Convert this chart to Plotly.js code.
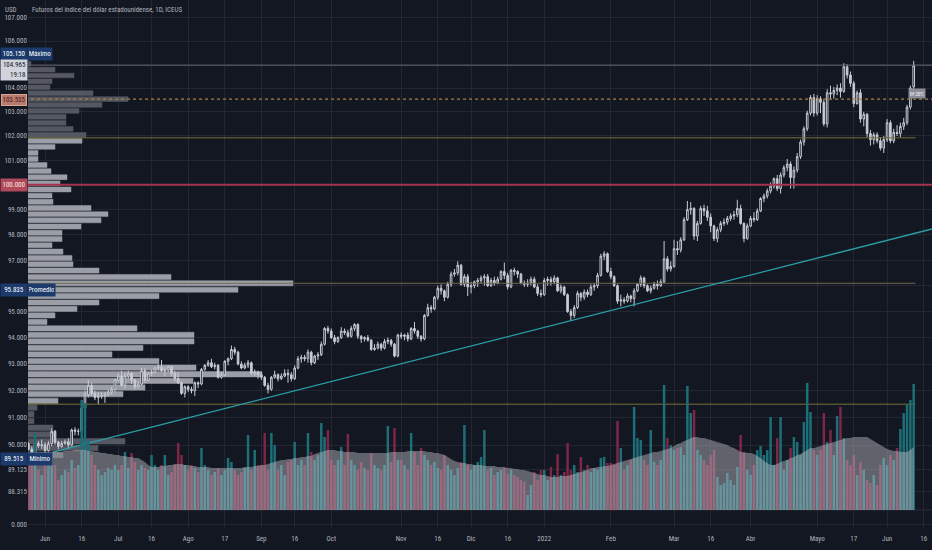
<!DOCTYPE html>
<html>
<head>
<meta charset="utf-8">
<script src="https://cdn.plot.ly/plotly-3.0.1.min.js"></script>
<style>
html,body{margin:0;padding:0;background:#131722;}
#chart{width:932px;height:550px;}
</style>
</head>
<body>
<div id="chart"></div>
<script>
// ---------------- DATA (daily bars, 24 May 2021 - 13 Jun 2022) ----------------
const opens = [
/*May21*/ 90.05,89.85,89.62,90.06,89.97,
/*Jun21*/ 90.02,89.80,90.05,90.50,90.10,89.95,90.05,90.12,90.00,90.55,90.50,90.50,91.35,91.85,92.20,91.90,91.75,91.80,91.80,91.85,91.95,92.05,
/*Jul21*/ 92.40,92.55,92.20,92.55,92.65,92.40,92.15,92.25,92.75,92.40,92.65,92.70,92.85,92.88,92.75,92.80,92.90,92.65,92.45,92.30,91.90,
/*Aug21*/ 92.15,92.05,92.00,92.30,92.25,92.80,92.95,93.05,92.90,92.95,92.50,92.60,93.10,93.20,93.55,93.45,93.00,92.85,92.95,93.05,92.65,92.70,
/*Sep21*/ 92.60,92.50,92.20,92.05,92.50,92.60,92.45,92.55,92.65,92.60,92.45,92.85,93.20,93.25,93.20,93.45,93.05,93.30,93.35,93.75,94.35,
/*Oct21*/ 94.25,94.00,93.85,94.00,94.25,94.20,94.05,94.35,94.50,94.05,93.95,94.00,93.90,93.55,93.60,93.75,93.60,93.85,93.90,93.75,93.30,
/*Nov21*/ 94.10,94.05,94.10,93.95,94.35,94.25,94.05,93.95,94.85,95.15,95.10,95.55,95.90,95.80,95.55,96.05,96.45,96.50,96.80,96.05,96.35,
/*Dec21*/ 95.95,96.00,96.15,96.20,96.30,96.35,96.00,96.20,96.10,96.25,96.55,96.40,95.95,96.60,96.55,96.45,96.10,96.05,96.10,96.25,95.95,95.70,
/*Jan22*/ 95.65,96.20,96.25,96.15,96.30,95.80,95.95,95.65,95.00,94.85,95.15,95.70,95.55,95.75,95.65,95.95,96.00,96.40,97.15,97.25,
/*Feb22*/ 96.55,96.35,96.00,95.40,95.45,95.40,95.60,95.50,95.80,96.05,96.30,96.00,95.80,95.90,96.05,96.00,96.15,97.05,96.65,
/*Mar22*/ 96.75,97.45,97.40,97.80,98.60,99.00,99.05,97.95,98.45,99.05,98.95,98.70,98.35,97.85,98.20,98.45,98.50,98.65,98.75,98.80,99.05,98.45,97.85,
/*Apr22*/ 98.35,98.65,98.60,98.95,99.45,99.55,99.75,99.95,100.25,99.85,100.40,100.70,100.85,100.30,100.60,101.15,101.75,102.30,102.95,103.60,
/*May22*/ 102.95,103.55,103.40,102.50,103.80,103.75,103.90,104.00,103.85,104.90,104.55,104.20,103.35,103.80,102.70,102.90,102.10,101.85,102.05,101.80,101.50,
/*Jun22*/ 101.85,102.55,101.80,102.15,102.10,102.40,102.55,103.20,104.05
];
const highs = [
/*May21*/ 90.10,89.95,90.15,90.15,90.20,
/*Jun21*/ 90.10,90.15,90.60,90.55,90.15,90.15,90.20,90.25,90.60,90.65,90.60,91.45,92.00,92.40,92.30,92.00,91.95,91.95,91.95,92.05,92.15,92.45,
/*Jul21*/ 92.65,92.75,92.70,92.75,92.70,92.45,92.35,92.85,92.85,92.70,92.80,92.90,93.00,93.15,92.90,92.95,92.95,92.75,92.70,92.35,92.20,
/*Aug21*/ 92.20,92.15,92.35,92.35,92.85,93.00,93.15,93.20,93.05,93.00,92.70,93.15,93.25,93.70,93.65,93.50,93.10,93.05,93.15,93.10,92.80,92.75,
/*Sep21*/ 92.70,92.55,92.30,92.55,92.75,92.65,92.65,92.80,92.80,92.70,92.95,93.30,93.35,93.35,93.55,93.50,93.35,93.45,93.85,94.40,94.45,
/*Oct21*/ 94.35,94.10,94.05,94.40,94.35,94.30,94.45,94.55,94.55,94.10,94.05,94.10,93.95,93.75,93.85,93.80,93.95,94.00,93.95,93.80,94.15,
/*Nov21*/ 94.20,94.15,94.20,94.40,94.60,94.30,94.10,94.90,95.30,95.25,95.60,96.00,96.05,95.85,96.15,96.55,96.65,96.95,96.85,96.45,96.45,
/*Dec21*/ 96.15,96.20,96.30,96.40,96.45,96.45,96.30,96.35,96.35,96.60,96.90,96.50,96.65,96.70,96.60,96.50,96.20,96.25,96.35,96.35,96.05,95.85,
/*Jan22*/ 96.30,96.35,96.35,96.40,96.35,96.05,96.00,95.70,95.10,95.25,95.80,95.75,95.85,95.85,96.05,96.10,96.50,97.25,97.35,97.30,
/*Feb22*/ 96.70,96.40,96.05,95.65,95.55,95.70,95.65,95.90,96.10,96.40,96.35,96.05,96.00,96.15,96.20,96.25,97.75,97.15,96.95,
/*Mar22*/ 97.80,97.75,97.90,98.70,99.35,99.30,99.10,98.55,99.15,99.20,99.15,98.85,98.40,98.30,98.55,98.65,98.75,98.85,98.95,99.40,99.20,98.50,98.45,
/*Apr22*/ 98.75,98.90,99.05,99.50,99.65,99.85,100.10,100.30,100.40,100.50,100.80,101.05,100.95,100.75,101.30,101.85,102.40,103.05,103.70,103.75,
/*May22*/ 103.70,103.65,103.50,103.95,104.10,104.05,104.15,104.20,105.05,105.00,104.70,104.30,103.90,103.95,103.00,102.95,102.25,102.15,102.15,101.95,102.00,
/*Jun22*/ 102.70,102.65,102.30,102.45,102.55,102.75,103.30,104.10,105.15
];
const lows = [
/*May21*/ 89.80,89.52,89.58,89.90,89.85,
/*Jun21*/ 89.65,89.75,89.95,90.00,89.85,89.90,90.00,89.85,89.95,90.35,90.35,90.40,91.30,91.75,91.80,91.65,91.50,91.70,91.55,91.80,91.85,91.95,
/*Jul21*/ 92.35,92.15,92.10,92.45,92.25,92.05,92.10,92.20,92.30,92.35,92.55,92.65,92.75,92.70,92.55,92.70,92.55,92.35,92.25,91.85,91.75,
/*Aug21*/ 91.95,91.90,91.80,92.10,92.20,92.75,92.90,92.85,92.80,92.45,92.45,92.55,92.95,93.15,93.35,92.95,92.80,92.80,92.85,92.60,92.55,92.45,
/*Sep21*/ 92.40,92.15,91.90,92.00,92.45,92.35,92.40,92.50,92.30,92.35,92.40,92.80,93.05,93.10,93.05,92.95,93.00,93.15,93.30,93.70,94.15,
/*Oct21*/ 93.95,93.75,93.80,93.95,94.10,94.00,94.00,94.25,93.95,93.80,93.85,93.85,93.50,93.50,93.55,93.50,93.55,93.75,93.65,93.25,93.25,
/*Nov21*/ 93.95,93.90,93.85,93.90,94.15,93.95,93.85,93.90,94.80,94.95,95.05,95.45,95.65,95.40,95.50,95.95,96.35,96.40,96.00,95.95,95.60,
/*Dec21*/ 95.70,95.90,95.95,96.10,96.00,95.95,95.95,96.00,96.05,96.20,96.25,95.85,95.90,96.40,96.30,96.05,95.95,95.95,96.00,95.90,95.60,95.55,
/*Jan22*/ 95.60,96.00,96.00,96.05,95.75,95.70,95.60,94.95,94.65,94.75,95.10,95.40,95.45,95.55,95.60,95.80,95.90,96.35,97.00,96.50,
/*Feb22*/ 96.25,95.95,95.30,95.20,95.30,95.35,95.35,95.20,95.75,95.95,95.90,95.75,95.70,95.85,95.85,95.95,96.10,96.55,96.55,
/*Mar22*/ 96.70,97.20,97.30,97.75,98.55,98.80,97.80,97.75,98.40,98.75,98.55,98.10,97.75,97.70,98.10,98.35,98.40,98.55,98.60,98.70,98.40,97.70,97.80,
/*Apr22*/ 98.30,98.50,98.55,98.90,99.30,99.45,99.65,99.85,99.75,99.65,100.30,100.55,99.85,99.85,100.50,101.05,101.60,102.20,102.85,102.80,
/*May22*/ 102.85,102.95,102.40,102.35,103.55,103.55,103.70,103.60,103.80,104.40,104.05,103.20,103.30,102.55,102.40,101.95,101.60,101.65,101.70,101.40,101.30,
/*Jun22*/ 101.75,101.70,101.70,102.00,101.95,102.25,102.45,103.10,103.95
];
const closes = [
/*May21*/ 89.85,89.62,90.06,89.97,90.02,
/*Jun21*/ 89.80,90.05,90.50,90.10,89.95,90.05,90.12,90.00,90.55,90.50,90.50,91.35,91.85,92.20,91.90,91.75,91.80,91.80,91.85,91.95,92.05,92.40,
/*Jul21*/ 92.55,92.20,92.55,92.65,92.40,92.15,92.25,92.75,92.40,92.65,92.70,92.85,92.88,92.75,92.80,92.90,92.65,92.45,92.30,91.90,92.15,
/*Aug21*/ 92.05,92.00,92.30,92.25,92.80,92.95,93.05,92.90,92.95,92.50,92.60,93.10,93.20,93.55,93.45,93.00,92.85,92.95,93.05,92.65,92.70,92.60,
/*Sep21*/ 92.50,92.20,92.05,92.50,92.60,92.45,92.55,92.65,92.60,92.45,92.85,93.20,93.25,93.20,93.45,93.05,93.30,93.35,93.75,94.35,94.25,
/*Oct21*/ 94.00,93.85,94.00,94.25,94.20,94.05,94.35,94.50,94.05,93.95,94.00,93.90,93.55,93.60,93.75,93.60,93.85,93.90,93.75,93.30,94.10,
/*Nov21*/ 94.05,94.10,93.95,94.35,94.25,94.05,93.95,94.85,95.15,95.10,95.55,95.90,95.80,95.55,96.05,96.45,96.50,96.80,96.05,96.35,95.95,
/*Dec21*/ 96.00,96.15,96.20,96.30,96.35,96.00,96.20,96.10,96.25,96.55,96.40,95.95,96.60,96.55,96.45,96.10,96.05,96.10,96.25,95.95,95.70,95.65,
/*Jan22*/ 96.20,96.25,96.15,96.30,95.80,95.95,95.65,95.00,94.85,95.15,95.70,95.55,95.75,95.65,95.95,96.00,96.40,97.15,97.25,96.55,
/*Feb22*/ 96.35,96.00,95.40,95.45,95.40,95.60,95.50,95.80,96.05,96.30,96.00,95.80,95.90,96.05,96.00,96.15,97.05,96.65,96.75,
/*Mar22*/ 97.45,97.40,97.80,98.60,99.00,99.05,97.95,98.45,99.05,98.95,98.70,98.35,97.85,98.20,98.45,98.50,98.65,98.75,98.80,99.05,98.45,97.85,98.35,
/*Apr22*/ 98.65,98.60,98.95,99.45,99.55,99.75,99.95,100.25,99.85,100.40,100.70,100.85,100.30,100.60,101.15,101.75,102.30,102.95,103.60,102.95,
/*May22*/ 103.55,103.40,102.50,103.80,103.75,103.90,104.00,103.85,104.90,104.55,104.20,103.35,103.80,102.70,102.90,102.10,101.85,102.05,101.80,101.50,101.85,
/*Jun22*/ 102.55,101.80,102.15,102.10,102.40,102.55,103.20,104.00,104.965
];
// volume (hundreds of contracts) per bar
const volume = [
 50,45,77,40,35,
 45,50,55,45,30,35,40,38,50,42,45,110,107,70,55,45,40,35,38,42,40,45,
 40,45,58,42,57,48,40,45,42,40,55,45,40,45,55,35,38,45,67,55,45,
 40,45,42,38,62,45,40,35,38,42,35,40,52,48,40,35,38,42,75,40,60,45,
 45,77,40,77,65,40,45,35,48,50,68,45,50,45,77,58,50,55,87,73,80,
 50,45,50,63,45,76,50,45,40,48,42,40,57,45,42,40,45,84,48,82,50,
 50,45,40,77,58,45,62,55,50,45,48,42,40,55,45,40,35,42,48,85,45,
 40,45,48,53,80,40,42,35,38,40,42,36,40,35,33,30,28,15,25,38,30,40,
 40,30,43,35,56,35,38,67,40,45,38,53,40,45,38,42,40,52,53,47,
 47,45,89,62,40,45,50,103,72,70,50,45,80,48,45,50,125,72,65,
 60,62,63,55,124,97,100,60,55,50,45,55,60,33,25,27,37,30,25,43,75,57,40,
 35,45,60,64,55,60,93,45,72,93,40,50,62,73,68,55,88,127,98,60,
 55,60,97,68,80,55,94,103,72,50,45,55,35,48,40,30,27,35,25,45,52,
 45,55,50,62,81,97,105,110,126
];
// volume moving average (same units)
const volumeMA = [
 58,58,58,58,58,
 58,58,58,58,58,58,59,59,59,60,60,60,60,59,59,58,58,57,57,56,56,55,
 55,54,54,53,53,52,52,50,48,45,43,43,43,44,44,45,45,46,46,46,45,
 45,44,44,43,43,43,43,42,42,42,42,42,42,42,42,42,42,43,43,43,44,44,
 45,45,46,47,48,49,50,50,51,51,52,52,53,53,54,54,56,57,58,59,60,
 60,60,59,59,58,58,58,58,57,57,57,57,57,57,57,57,57,57,58,58,58,
 58,58,59,59,59,59,59,59,58,58,57,57,56,55,53,51,49,48,47,47,46,
 46,45,45,45,44,44,44,44,43,43,43,42,42,41,41,40,40,39,38,37,36,35,
 35,34,33,33,33,34,34,34,35,36,37,38,39,40,42,42,43,43,44,44,
 45,46,47,48,49,50,51,52,53,54,55,56,57,58,58,59,60,61,62,
 64,66,67,69,70,72,73,73,72,72,71,70,69,68,67,66,65,63,62,60,58,58,57,
 57,56,54,52,49,47,45,45,46,48,49,50,52,53,55,56,58,60,62,62,
 63,64,65,66,67,68,69,70,71,72,72,73,73,73,73,73,71,69,67,65,63,
 61,60,59,59,58,58,58,60,63
];
// visible-range volume profile (63 rows, top to bottom)
const profileHigh = 105.15, profileLow = 89.515;
const profileVol = [3,27,46,24,22,65,100,74,51,38,38,45,58,54,27,10,10,19,23,39,32,43,24,25,63,80,73,53,34,34,24,35,44,45,71,143,265,210,131,71,49,27,19,109,166,166,115,84,131,168,234,165,117,95,30,9,6,6,25,27,97,70,35];
const vaHigh = 101.924, vaLow = 91.50, pocLevel = 96.092;
const lastPrice = 104.965, dottedLevel = 103.535, keyLevel = 100.0;
const trendX = [7.4, 271.5], trendY = [89.74, 98.23];

// time-axis labels (bar index -> label)
const tickIdx = [5,16,27,37,48,59,70,80,91,112,123,133,144,155,175,194,205,217,237,248,258,269];
const tickLabels = ['Jun','16','Jul','16','Ago','17','Sep','16','Oct','Nov','16','Dic','16','2022','Feb','Mar','16','Abr','Mayo','17','Jun','16'];
// price-axis labels (105, 100 and 96 sit under the price boxes)
const yTickVals = [107,106,105,104,103,102,101,100,99,98,97,96,95,94,93,92,91,90,89.125,88.315,87.16];
const yTickText = ['107.000','106.000','','104.000','103.000','102.000','101.000','','99.000','98.000','97.000','','95.000','94.000','93.000','92.000','91.000','90.000','89.125','88.315','0.000'];

// ---------------- STYLE ----------------
const BG = '#131722', GRID = '#232733', TXT = '#b2b5be';
const FONT = "'Liberation Sans Narrow', 'Arial Narrow', 'Roboto Condensed', Roboto, sans-serif";
const W = 932, H = 550, ML = 28, MB = 22;
const PW = W - ML, PH = H - MB;

const n = closes.length;
const idx = closes.map((_, i) => i);
const lastIdx = n - 1;

// profile polygons
const rowsN = profileVol.length;
const rowH = (profileHigh - profileLow) / rowsN;
const darkP = {x: [], y: []}, lightP = {x: [], y: []};
profileVol.forEach((v, k) => {
  const top = profileHigh - k * rowH, bot = top - rowH;
  const mid = (top + bot) / 2;
  const t = top - rowH * 0.1, b = bot + rowH * 0.1;
  const tgt = (mid <= vaHigh && mid >= vaLow) ? lightP : darkP;
  tgt.x.push(0, v, v, 0, 0, null);
  tgt.y.push(b, b, t, t, b, null);
});

const traces = [];
traces.push({type:'scatter', mode:'lines', x:darkP.x, y:darkP.y, xaxis:'x', yaxis:'y',
  fill:'toself', fillcolor:'#555862', line:{width:0.5, color:'#555862'}, hoverinfo:'skip', connectgaps:false});
traces.push({type:'scatter', mode:'lines', x:lightP.x, y:lightP.y, xaxis:'x', yaxis:'y',
  fill:'toself', fillcolor:'#9b9ea7', line:{width:0.5, color:'#9b9ea7'}, hoverinfo:'skip', connectgaps:false});

// candles
traces.push({type:'candlestick', x:idx, open:opens, high:highs, low:lows, close:closes,
  xaxis:'x2', yaxis:'y', whiskerwidth:0, hoverinfo:'skip',
  increasing:{line:{color:'#c8cbd3', width:1}, fillcolor:BG},
  decreasing:{line:{color:'#c8cbd3', width:1}, fillcolor:'#c8cbd3'}});

function hline(level, x0, x1, color, width, dash) {
  return {type:'scatter', mode:'lines', x:[x0, x1], y:[level, level], xaxis:'x2', yaxis:'y',
    line:{color:color, width:width, dash:dash || 'solid'}, hoverinfo:'skip'};
}
traces.push(hline(vaHigh, -1, lastIdx + 0.5, '#77703a', 1));
traces.push(hline(pocLevel, -1, lastIdx + 0.5, '#6e6a4e', 1));
traces.push(hline(vaLow, -1, lastIdx + 0.5, '#77703a', 1));
traces.push(hline(lastPrice, -1, 280, '#5f626d', 1));
traces.push(hline(dottedLevel, -1, 280, '#a8843f', 1.3, 'dot'));
traces.push(hline(keyLevel, -1, 280, '#a3344b', 2));
traces.push({type:'scatter', mode:'lines', x:trendX, y:trendY, xaxis:'x2', yaxis:'y',
  line:{color:'#2a9fa8', width:1.4}, hoverinfo:'skip'});

// volume + MA
const volColors = closes.map((c, i) => c >= opens[i] ? '#1e6e78' : '#7d2646');
traces.push({type:'bar', x:idx, y:volume, xaxis:'x2', yaxis:'y2',
  marker:{color:volColors, line:{width:0}}, hoverinfo:'skip'});
traces.push({type:'scatter', mode:'lines', x:idx, y:volumeMA, xaxis:'x2', yaxis:'y2',
  fill:'tozeroy', fillcolor:'rgba(190,192,200,0.45)', line:{width:0, color:'rgba(0,0,0,0)'}, hoverinfo:'skip'});

// ---------------- ANNOTATIONS ----------------
const px = x => (x - ML) / PW;
const py = y => 1 - y / PH;
function box(text, cx, cy, bg, fg, w, h, extra) {
  return Object.assign({xref:'paper', yref:'paper', x:px(cx), y:py(cy), text:text, showarrow:false,
    xanchor:'center', yanchor:'middle', bgcolor:bg, borderpad:1, width:w, height:h,
    font:{family:FONT, size:7, color:fg}}, extra || {});
}
const NAVY = '#1c3a6b';
const annotations = [
  {xref:'paper', yref:'paper', x:px(3), y:py(10), xanchor:'left', yanchor:'middle', showarrow:false,
   text:'USD', font:{family:FONT, size:7, color:TXT}},
  {xref:'paper', yref:'paper', x:px(30), y:py(10), xanchor:'left', yanchor:'middle', showarrow:false,
   text:'Futuros del índice del dólar estadounidense, 1D, ICEUS', font:{family:FONT, size:7, color:TXT}},
  box('105.150', 14, 54, NAVY, '#ffffff', 24, 10),
  box('Máximo', 40, 54, NAVY, '#ffffff', 22, 10),
  box('104.965<br>19:18', 14, 70, '#d1d4dc', '#131722', 24, 18, {align:'right'}),
  box('103.535', 14, 100, '#b87c6c', '#4d1616', 24, 10, {bordercolor:'#d8a394', borderwidth:1, borderpad:0}),
  box('100.000', 14, 185, '#b04a5a', '#fbe8e0', 24, 10),
  box('95.835', 14, 290, NAVY, '#ffffff', 24, 10),
  box('Promedio', 41, 290, NAVY, '#ffffff', 25, 10),
  box('89.515', 14, 459, NAVY, '#ffffff', 24, 10),
  box('Mínimo', 40, 459, NAVY, '#ffffff', 22, 10),
  box('HH 2017', 917, 94, '#8a8d96', '#ffffff', 14, 7, {font:{family:FONT, size:5, color:'#ffffff'}})
];

const shapes = [
  {type:'line', xref:'paper', yref:'y2', x0:0, x1:1, y0:0, y1:0, line:{color:'#2a2e39', width:1}, layer:'below'},
  {type:'rect', xref:'paper', yref:'paper', x0:px(0), x1:px(27), y0:py(15), y1:1, fillcolor:BG, line:{width:0}, layer:'above'}
];

const layout = {
  width:W, height:H,
  margin:{l:ML, r:0, t:0, b:MB, pad:0},
  paper_bgcolor:BG, plot_bgcolor:BG,
  showlegend:false, hovermode:false, dragmode:false,
  bargap:0.25,
  xaxis:{range:[0, PW], visible:false, fixedrange:true, rangeslider:{visible:false}},
  xaxis2:{overlaying:'x', anchor:'y', side:'bottom', type:'linear', range:[-0.12, 271.5],
    tickmode:'array', tickvals:tickIdx, ticktext:tickLabels,
    showgrid:true, gridcolor:GRID, gridwidth:1, zeroline:false, showline:false, ticks:'',
    ticklabelstandoff:5, tickfont:{family:FONT, size:7, color:TXT}, rangeslider:{visible:false}, fixedrange:true},
  yaxis:{type:'log', range:[1.939643, 2.032518], side:'left',
    tickmode:'array', tickvals:yTickVals, ticktext:yTickText,
    showgrid:true, gridcolor:GRID, gridwidth:1, zeroline:false, showline:false, ticks:'',
    tickfont:{family:FONT, size:7, color:TXT}, fixedrange:true},
  yaxis2:{overlaying:'y', anchor:'x', range:[-18, 510], visible:false, fixedrange:true},
  annotations:annotations,
  shapes:shapes
};

Plotly.newPlot('chart', traces, layout, {staticPlot:true, displayModeBar:false});
</script>
</body>
</html>
